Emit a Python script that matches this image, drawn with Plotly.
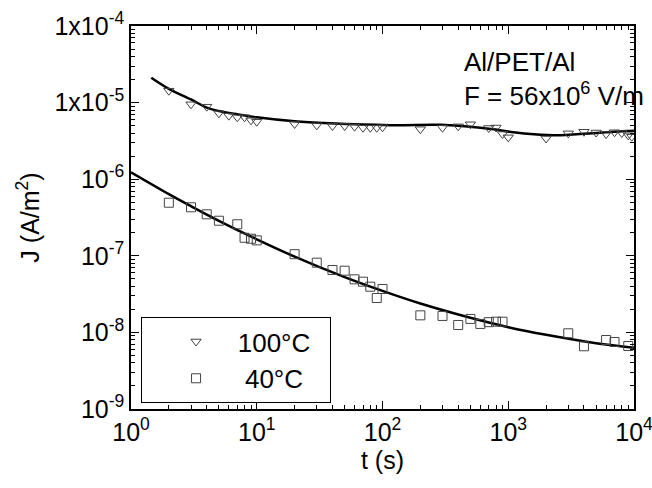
import plotly.graph_objects as go

# ---------------- data ----------------
t_100 = [2, 3, 4, 5, 6, 7, 8, 9, 10, 20, 30, 40, 50, 60, 70, 80, 90, 100,
         200, 300, 400, 500, 700, 800, 900, 1000, 2000, 3000, 4000, 5000,
         6000, 7000, 8000, 9000, 9600]
J_100 = [1.43e-5, 9.50e-6, 8.84e-6, 7.25e-6, 6.75e-6, 6.43e-6, 6.43e-6, 5.87e-6,
         5.63e-6, 5.26e-6, 5.05e-6, 4.95e-6, 4.95e-6, 4.85e-6, 4.70e-6, 4.70e-6,
         4.70e-6, 4.77e-6, 4.50e-6, 4.70e-6, 4.90e-6, 5.21e-6, 4.66e-6, 4.73e-6,
         3.89e-6, 3.52e-6, 3.40e-6, 3.97e-6, 4.16e-6, 4.07e-6, 3.89e-6, 4.10e-6,
         4.01e-6, 3.74e-6, 3.59e-6]

t_40 = [2, 3, 4, 5, 7, 8, 9, 10, 20, 30, 40, 50, 60, 70, 80, 90, 100,
        200, 300, 400, 500, 600, 700, 800, 900, 3000, 4000, 6000, 7000, 9000]
J_40 = [4.93e-7, 4.30e-7, 3.48e-7, 2.87e-7, 2.58e-7, 1.72e-7, 1.67e-7, 1.59e-7,
        1.05e-7, 8.13e-8, 6.53e-8, 6.39e-8, 4.93e-8, 4.59e-8, 3.95e-8, 2.81e-8,
        3.69e-8, 1.67e-8, 1.64e-8, 1.25e-8, 1.50e-8, 1.29e-8, 1.36e-8, 1.38e-8,
        1.38e-8, 9.73e-9, 6.59e-9, 7.96e-9, 7.50e-9, 6.64e-9]

# fitted curves
fit_t_100 = [1.45, 2, 3, 4, 5, 7, 10, 20, 38, 115, 290, 500, 760, 1100, 1600,
             2600, 3700, 6000, 8700, 10000]
fit_J_100 = [2.11e-5, 1.51e-5, 1.10e-5, 8.58e-6, 7.76e-6, 7.03e-6, 6.43e-6, 5.70e-6,
             5.37e-6, 5.08e-6, 5.12e-6, 4.85e-6, 4.48e-6, 4.09e-6, 3.85e-6, 3.74e-6,
             3.89e-6, 4.09e-6, 4.26e-6, 4.30e-6]

fit_t_40 = [1, 2, 3, 5, 10, 20, 50, 100, 200, 500, 1000, 2000, 5000, 10000]
fit_J_40 = [1.23e-6, 6.38e-7, 4.44e-7, 2.86e-7, 1.64e-7, 9.77e-8, 5.27e-8, 3.48e-8,
            2.38e-8, 1.55e-8, 1.17e-8, 9.29e-9, 7.23e-9, 6.31e-9]

x_tick_vals = [1, 10, 100, 1000, 10000]
x_tick_text = ["10<sup>0</sup>", "10<sup>1</sup>", "10<sup>2</sup>", "10<sup>3</sup>", "10<sup>4</sup>"]
y_tick_vals = [1e-4, 1e-5, 1e-6, 1e-7, 1e-8, 1e-9]
y_tick_text = ["1x10<sup>-4</sup>", "1x10<sup>-5</sup>", "10<sup>-6</sup>",
               "10<sup>-7</sup>", "10<sup>-8</sup>", "10<sup>-9</sup>"]

FONT = "Liberation Sans, Arial, sans-serif"
NB = "\u00a0"

fig = go.Figure()
fig.add_trace(go.Scatter(x=fit_t_100, y=fit_J_100, mode="lines",
                         line=dict(color="black", width=2.5, shape="spline"),
                         showlegend=False, hoverinfo="skip"))
fig.add_trace(go.Scatter(x=fit_t_40, y=fit_J_40, mode="lines",
                         line=dict(color="black", width=2.5, shape="spline"),
                         showlegend=False, hoverinfo="skip"))
fig.add_trace(go.Scatter(x=t_100, y=J_100, mode="markers", name=NB * 3 + "100°C" + NB * 2,
                         marker=dict(symbol="triangle-down-open", size=9,
                                     color="#444444", line=dict(width=1, color="#444444"))))
fig.add_trace(go.Scatter(x=t_40, y=J_40, mode="markers", name=NB * 4 + "40°C",
                         marker=dict(symbol="square-open", size=9,
                                     color="#444444", line=dict(width=1, color="#444444"))))

minor_x = [m * 10 ** e for e in range(0, 4) for m in range(2, 10)]
minor_y = [m * 10.0 ** e for e in range(-9, -4) for m in range(2, 10)]

axis_common = dict(type="log", showgrid=False, zeroline=False, showline=True,
                   linecolor="black", linewidth=1.5, mirror="allticks",
                   ticks="inside", ticklen=8, tickwidth=1.2, tickcolor="black",
                   ticklabeloverflow="allow", automargin=False,
                   tickfont=dict(family=FONT, size=25, color="black"))

fig.update_xaxes(range=[0, 4], tickmode="array", tickvals=x_tick_vals, ticktext=x_tick_text,
                 minor=dict(tickmode="array", tickvals=minor_x, ticks="inside",
                            ticklen=4, tickcolor="black", tickwidth=1, showgrid=False),
                 title=dict(text="t (s)", font=dict(family=FONT, size=25, color="black"),
                            standoff=4),
                 **axis_common)
fig.update_yaxes(range=[-9, -4], tickmode="array", tickvals=y_tick_vals, ticktext=y_tick_text,
                 minor=dict(tickmode="array", tickvals=minor_y, ticks="inside",
                            ticklen=4, tickcolor="black", tickwidth=1, showgrid=False),
                 title=dict(text="J (A/m<sup>2</sup>)", font=dict(family=FONT, size=25, color="black"),
                            standoff=8),
                 **axis_common)

fig.add_annotation(text="Al/PET/Al", xref="paper", yref="paper", x=0.658, y=0.906,
                   xanchor="left", yanchor="middle", showarrow=False,
                   font=dict(family=FONT, size=26, color="black"))
fig.add_annotation(text="F = 56x10<sup>6</sup> V/m", xref="paper", yref="paper", x=0.658, y=0.820,
                   xanchor="left", yanchor="middle", showarrow=False,
                   font=dict(family=FONT, size=26, color="black"))

fig.update_layout(
    width=652, height=488,
    margin=dict(l=131, r=18, t=26, b=79, autoexpand=False),
    paper_bgcolor="white", plot_bgcolor="white",
    font=dict(family=FONT, color="black"),
    legend=dict(x=0.02, y=0.24, xanchor="left", yanchor="top",
                bgcolor="white", bordercolor="black", borderwidth=1,
                font=dict(family=FONT, size=26, color="black"),
                indentation=34, tracegroupgap=4),
)

fig.write_html("out.html", config={"displayModeBar": False},
               post_script="document.body.style.margin='0px';document.body.style.padding='0px';")
